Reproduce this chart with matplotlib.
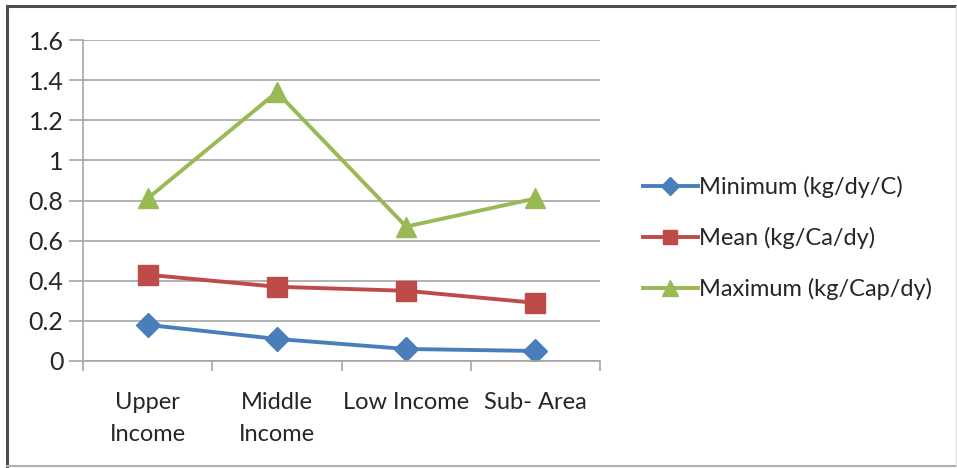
import matplotlib as mpl
mpl.use('Agg')
import matplotlib.pyplot as plt
from matplotlib.lines import Line2D

plt.rcParams['font.family'] = ['Lato', 'DejaVu Sans']

categories = ['Upper\nIncome', 'Middle\nIncome', 'Low Income', 'Sub- Area']
minimum = [0.18, 0.11, 0.06, 0.05]
mean = [0.43, 0.37, 0.35, 0.29]
maximum = [0.81, 1.34, 0.67, 0.81]
labels = ['Minimum (kg/dy/C)', 'Mean (kg/Ca/dy)', 'Maximum (kg/Cap/dy)']
yticks = [0, 0.2, 0.4, 0.6, 0.8, 1, 1.2, 1.4, 1.6]

fig = plt.figure(figsize=(9.57, 4.68), dpi=100)
ax = fig.add_axes([83/957, 1-361/468, (600-83)/957, (361-40)/468])

x = list(range(len(categories)))
ax.plot(x, minimum, color='#4a7ebb', lw=2.8, marker='D', ms=12, label=labels[0])
ax.plot(x, mean, color='#be4b48', lw=2.8, marker='s', ms=14, label=labels[1])
ax.plot(x, maximum, color='#98b954', lw=2.8, marker='^', ms=15, label=labels[2])

ax.set_xlim(-0.5, 3.5)
ax.set_ylim(0, 1.6)
ax.set_yticks(yticks)
ax.set_yticklabels(['0', '0.2', '0.4', '0.6', '0.8', '1', '1.2', '1.4', '1.6'])
ax.yaxis.grid(True, color='#a6a6a6', lw=1.2)
ax.set_axisbelow(True)

# category ticks sit between the categories
ax.set_xticks([-0.5, 0.5, 1.5, 2.5, 3.5])
ax.set_xticklabels([])
ax.set_xticks(x, minor=True)
ax.set_xticklabels(categories, minor=True, linespacing=1.65)
ax.tick_params(axis='x', which='major', length=7, color='#a6a6a6', width=1.2)
ax.tick_params(axis='x', which='minor', length=0, pad=22, labelsize=17, colors='#262626')
ax.tick_params(axis='y', length=10, color='#a6a6a6', width=1.2, labelsize=18,
               labelcolor='#262626', pad=4)

for s in ['top', 'right']:
    ax.spines[s].set_visible(False)
for s in ['left', 'bottom']:
    ax.spines[s].set_color('#a6a6a6')
    ax.spines[s].set_linewidth(1.2)

leg = fig.legend(loc='center left', bbox_to_anchor=(622/957, 1-238/468), frameon=False,
                 fontsize=17, handlelength=2.3, handletextpad=0.05, labelspacing=1.23,
                 markerscale=0.75)
for t in leg.get_texts():
    t.set_color('#262626')

# outer frame: dark left/top, light bottom/right
fig.add_artist(Line2D([7/957, 7/957], [2/468, 1-6/468], transform=fig.transFigure,
                      color='#4d4d4d', lw=2.2))
fig.add_artist(Line2D([7/957, 956/957], [1-6/468, 1-6/468], transform=fig.transFigure,
                      color='#4d4d4d', lw=2.2))
fig.add_artist(Line2D([7/957, 956/957], [2/468, 2/468], transform=fig.transFigure,
                      color='#b0b0b0', lw=1.5))
fig.add_artist(Line2D([955.5/957, 955.5/957], [2/468, 1-6/468], transform=fig.transFigure,
                      color='#e0e0e0', lw=1))

plt.savefig('out.png', dpi=100)
plt.close()
